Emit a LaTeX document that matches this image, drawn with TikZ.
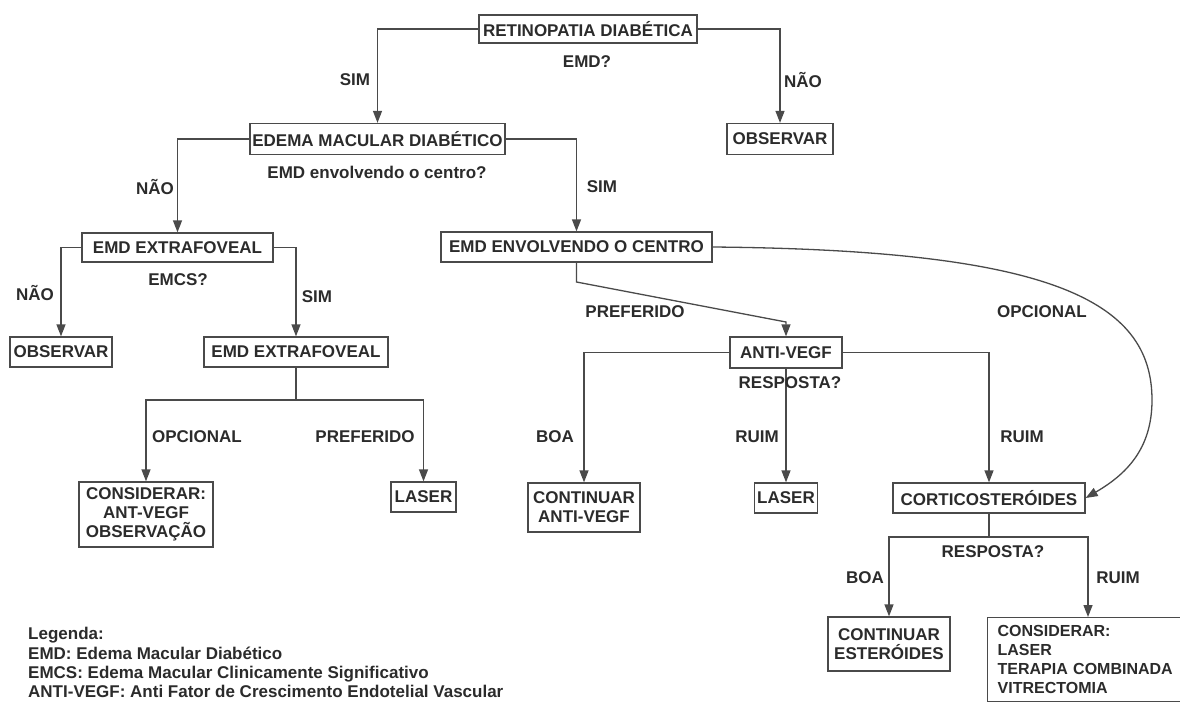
\documentclass[tikz,border=0pt]{standalone}
\usepackage{fontspec}
\setmainfont{Liberation Sans}
\usetikzlibrary{arrows.meta}
\definecolor{txt}{HTML}{2B2B2B}
\definecolor{ln}{HTML}{4A4A4A}
\begin{document}
\begin{tikzpicture}[x=1pt,y=-1pt,
  every node/.style={font=\fontsize{17}{19}\selectfont\bfseries, text=txt},
  box/.style={draw=ln, line width=1.3pt, inner sep=0pt, align=center},
  lbl/.style={inner sep=0pt},
  conn/.style={draw=ln, line width=1.3pt, -{Triangle[length=12pt,width=9pt]}},
  plain/.style={draw=ln, line width=1.3pt}]
\useasboundingbox (0,0) rectangle (1180,702);
\clip (0,0) rectangle (1180,702);

% boxes
\node[box,minimum width=218pt,minimum height=28pt] (ret) at (588,29) {RETINOPATIA DIABÉTICA};
\node[box,minimum width=255pt,minimum height=31pt] (edema) at (377.5,139) {EDEMA MACULAR DIABÉTICO};
\node[box,minimum width=106pt,minimum height=31pt] (obsR) at (780,139) {OBSERVAR};
\node[box,minimum width=271pt,minimum height=30pt] (envolv) at (576.5,247) {EMD ENVOLVENDO O CENTRO};
\node[box,minimum width=191pt,minimum height=29pt] (extraA) at (177.5,247.5) {EMD EXTRAFOVEAL};
\node[box,minimum width=102pt,minimum height=30pt] (obsL) at (61,352) {OBSERVAR};
\node[box,minimum width=184pt,minimum height=30pt] (extraB) at (296,352) {EMD EXTRAFOVEAL};
\node[box,minimum width=134pt,minimum height=65pt] (consL) at (146,514.5) {CONSIDERAR:\\ANT-VEGF\\OBSERVAÇÃO};
\node[box,minimum width=65pt,minimum height=30pt] (laserL) at (423.5,497) {LASER};
\node[box,minimum width=112pt,minimum height=31pt] (anti) at (786,352.5) {ANTI-VEGF};
\node[box,minimum width=112pt,minimum height=49pt] (contA) at (584,507.5) {CONTINUAR\\ANTI-VEGF};
\node[box,minimum width=63pt,minimum height=30pt] (laserM) at (786,498) {LASER};
\node[box,minimum width=192pt,minimum height=30pt] (cort) at (989,498) {CORTICOSTERÓIDES};
\node[box,minimum width=122pt,minimum height=54pt] (contE) at (889,644) {CONTINUAR\\ESTERÓIDES};
\node[box,anchor=north west,text width=195pt,align=left,inner xsep=10pt,inner ysep=7pt,minimum height=84pt,font=\fontsize{16}{19}\selectfont\bfseries] (consR) at (987,617) {CONSIDERAR:\\LASER\\TERAPIA COMBINADA\\VITRECTOMIA};

% connectors
\draw[conn] (ret.west) -| (edema.north);
\draw[conn] (ret.east) -| (obsR.north);
\draw[conn] (edema.west) -| (extraA.north);
\draw[conn] (edema.east) -| (envolv.north);
\draw[conn] (extraA.west) -| (obsL.north);
\draw[conn] (extraA.east) -| (extraB.north);
\coordinate (jA) at (296,400);
\draw[plain] (extraB.south) -- (jA);
\draw[conn] (jA) -| (consL.north);
\draw[conn] (jA) -| (laserL.north);
\coordinate (bA) at (576.5,282);
\coordinate (bB) at (786,322);
\draw[conn] (envolv.south) -- (bA) -- (bB) -- (anti.north);
\coordinate (cA) at (1152,400);
\draw[conn] (envolv.east) .. controls (1050,250) and (1152,300) .. (cA) .. controls (1152,450) and (1125,475) .. (cort.east);
\draw[conn] (anti.west) -| (contA.north);
\draw[conn] (anti.south) -- (laserM.north);
\draw[conn] (anti.east) -| (cort.north);
\coordinate (jB) at (989,537);
\draw[plain] (cort.south) -- (jB);
\coordinate (consRin) at (1088,617);
\draw[conn] (jB) -| (contE.north);
\draw[conn] (jB) -| (consRin);

% labels
\node[lbl] (qA) at (587,62) {EMD?};
\node[lbl] (lSimA) at (355,80) {SIM};
\node[lbl] (lNaoA) at (803,80) {NÃO};
\node[lbl] (qB) at (377,172) {EMD envolvendo o centro?};
\node[lbl] (lNaoB) at (155,187) {NÃO};
\node[lbl] (lSimB) at (602,187) {SIM};
\node[lbl] (qC) at (178,280) {EMCS?};
\node[lbl] (lNaoC) at (35,293) {NÃO};
\node[lbl] (lSimC) at (317,297) {SIM};
\node[lbl] (lOpcA) at (197,437) {OPCIONAL};
\node[lbl] (lPrefA) at (365,437) {PREFERIDO};
\node[lbl] (lPrefB) at (635,312) {PREFERIDO};
\node[lbl] (lOpcB) at (1042,312) {OPCIONAL};
\node[lbl] (qD) at (790,383) {RESPOSTA?};
\node[lbl] (lBoaA) at (555,437) {BOA};
\node[lbl] (lRuimA) at (757,437) {RUIM};
\node[lbl] (lRuimB) at (1022,437) {RUIM};
\node[lbl] (qE) at (993,552) {RESPOSTA?};
\node[lbl] (lBoaB) at (865,578) {BOA};
\node[lbl] (lRuimC) at (1118,578) {RUIM};

% legend
\node[lbl,anchor=base west] (legA) at (28,639) {Legenda:};
\node[lbl,anchor=base west] (legB) at (28,659) {EMD: Edema Macular Diabético};
\node[lbl,anchor=base west] (legC) at (28,678) {EMCS: Edema Macular Clinicamente Significativo};
\node[lbl,anchor=base west] (legD) at (28,697) {ANTI-VEGF: Anti Fator de Crescimento Endotelial Vascular};
\end{tikzpicture}
\end{document}
